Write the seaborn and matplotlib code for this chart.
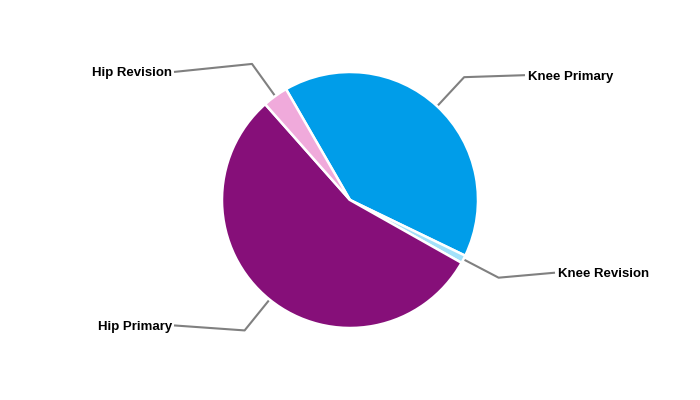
import numpy as np
import seaborn as sns
import matplotlib.pyplot as plt

categories = ['Knee Primary', 'Knee Revision', 'Hip Primary', 'Hip Revision']
shares = [40.5, 1.0, 55.3, 3.2]
colors = ['#009DE9', '#A2E1FA', '#860F79', '#F0AADB']

sns.set_style('white')
plt.rcParams['font.family'] = ['Liberation Sans', 'DejaVu Sans']

fig = plt.figure(figsize=(7, 4), dpi=100)
ax = fig.add_axes([0, 0, 1, 1])

cx, cy, r = 350, 200, 128
wedges, _ = ax.pie(
    shares,
    colors=colors,
    startangle=120,
    counterclock=False,
    center=(cx, cy),
    radius=r,
    wedgeprops={'edgecolor': 'white', 'linewidth': 1.8},
)

# label placement: (end of leader line x, y offset from elbow, text side)
label_layout = {
    'Knee Primary': (525, 2, 'left'),
    'Knee Revision': (555, 5, 'left'),
    'Hip Primary': (174, 5, 'right'),
    'Hip Revision': (174, -8, 'right'),
}

for w, name in zip(wedges, categories):
    mid = np.deg2rad((w.theta1 + w.theta2) / 2)
    x0, y0 = cx + r * np.cos(mid), cy + r * np.sin(mid)
    x1, y1 = cx + 1.31 * r * np.cos(mid), cy + 1.31 * r * np.sin(mid)
    xe, dy, side = label_layout[name]
    ye = y1 + dy
    ax.plot([x0, x1, xe], [y0, y1, ye], color='#808080', lw=1.5,
            solid_capstyle='butt', zorder=0)
    tx = xe + 3 if side == 'left' else xe - 2
    ax.text(tx, ye - 1.5, name, ha=side, va='center', fontsize=9.5,
            fontweight='bold', color='black')

ax.set_xlim(0, 700)
ax.set_ylim(0, 400)
ax.set_aspect('equal')
ax.axis('off')

fig.savefig('out.png', dpi=100)
